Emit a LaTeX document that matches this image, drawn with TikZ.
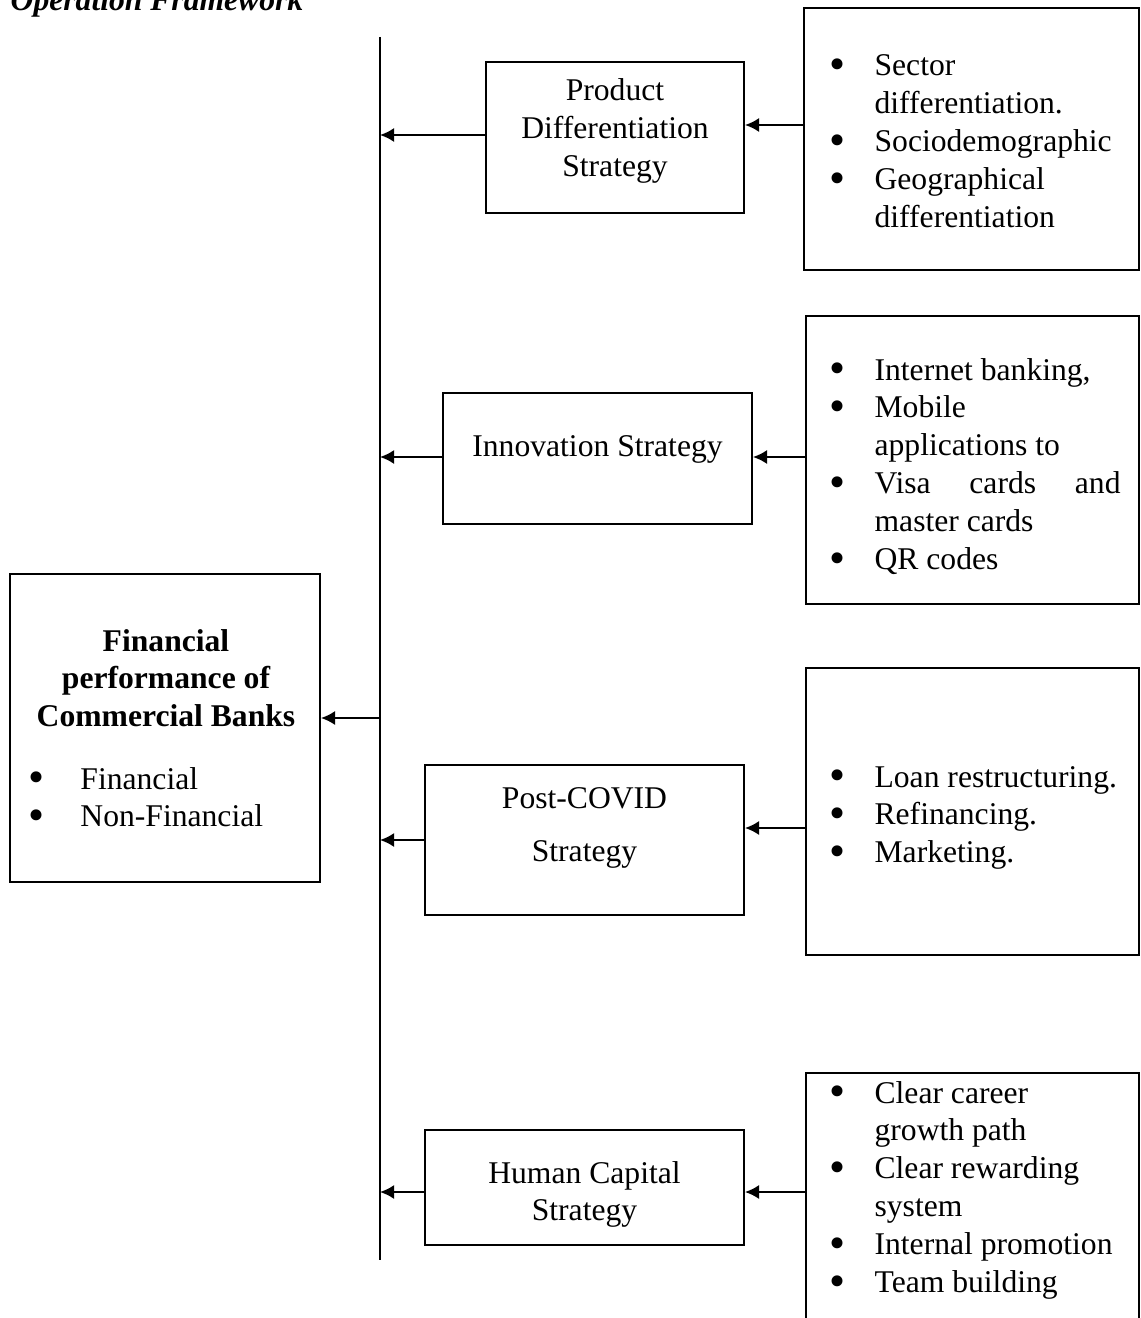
\documentclass[tikz,border=0pt]{standalone}
\usepackage{fontspec}
\setmainfont{Liberation Serif}
\usetikzlibrary{arrows.meta,fit}

\newcommand{\bul}[1][24.7pt]{\makebox[#1][l]{\hspace*{-1pt}\raisebox{-2pt}[0pt][0pt]{\scalebox{1.45}{\textbullet}}}}

\begin{document}
\begin{tikzpicture}[x=0.02cm, y=-0.02cm, thick,
    box/.style={draw, line width=1.1pt, inner sep=0pt},
    txt/.style={inner sep=0pt, font=\fontsize{18}{21.6}\selectfont},
    arr/.style={line width=1.1pt, -{Latex[length=8pt,width=8pt]}}]
                \useasboundingbox (0,0) rectangle (1141,1318);

                \node[txt, anchor=base west, font=\fontsize{18}{21.6}\selectfont\bfseries\itshape] (title) at (10,11) {Operation Framework};

                \coordinate (top) at (380,37);
                \coordinate (bot) at (380,1260);
                \draw[line width=0.8pt] (top) -- (bot);

                % dependent variable
                \node[box, fit={(10,574) (320,882)}] (Perf) {};
                \node[txt, anchor=base, font=\fontsize{18}{21.6}\selectfont\bfseries] (Perftxt) at (166,651)
                    {\begin{tabular}[t]{@{}c@{}}Financial\\performance of\\Commercial Banks\end{tabular}};
                \node[txt, anchor=base west] (Perflist) at (29.5,789)
                    {\begin{tabular}[t]{@{}l@{}l@{}}\bul[28.6pt] & Financial\\ \bul[28.6pt] & Non-Financial\end{tabular}};

                % strategies
                \node[box, fit={(486,62) (744,213)}] (P) {};
                \node[txt, anchor=base] (Ptxt) at (615,101)
                    {\begin{tabular}[t]{@{}c@{}}Product\\Differentiation\\Strategy\end{tabular}};

                \node[box, fit={(443,393) (752,524)}] (I) {};
                \node[txt, anchor=base] (Itxt) at (597.5,456) {Innovation Strategy};

                \node[box, fit={(425,765) (744,915)}] (C) {};
                \node[txt, anchor=base] (Ctxt) at (584.5,808)
                    {\begin{tabular}[t]{@{}c@{}}Post-COVID\\[9pt]Strategy\end{tabular}};

                \node[box, fit={(425,1130) (744,1245)}] (H) {};
                \node[txt, anchor=base] (Htxt) at (584.5,1183)
                    {\begin{tabular}[t]{@{}c@{}}Human Capital\\Strategy\end{tabular}};

                % indicators
                \node[box, fit={(804,8) (1139,270)}] (R1) {};
                \node[txt, anchor=base west] (R1txt) at (830.5,76)
                    {\begin{tabular}[t]{@{}l@{}l@{}}\bul & Sector\\ & differentiation.\\ \bul & Sociodemographic\\
                     \bul & Geographical\\ & differentiation\end{tabular}};

                \node[box, fit={(806,316) (1139,604)}] (R2) {};
                \node[txt, anchor=base west] (R2txt) at (830.5,380)
                    {\begin{tabular}[t]{@{}l@{}l@{}}\bul & Internet banking,\\ \bul & Mobile\\ & applications to\\
                     \bul & \makebox[140pt][s]{Visa\hfill cards\hfill and}\\ & master cards\\ \bul & QR codes\end{tabular}};

                \node[box, fit={(806,668) (1139,955)}] (R3) {};
                \node[txt, anchor=base west] (R3txt) at (830.5,787)
                    {\begin{tabular}[t]{@{}l@{}l@{}}\bul & Loan restructuring.\\ \bul & Refinancing.\\ \bul & Marketing.\end{tabular}};

                \node[box, fit={(806,1073) (1139,1340)}] (R4) {};
                \node[txt, anchor=base west] (R4txt) at (830.5,1103)
                    {\begin{tabular}[t]{@{}l@{}l@{}}\bul & Clear career\\ & growth path\\ \bul & Clear rewarding\\
                     & system\\ \bul & Internal promotion\\ \bul & Team building\end{tabular}};

                % arrows
                \draw[arr] (P.west |- 0,135) -- (top |- 0,135);
                \draw[arr] (R1.west |- 0,125) -- (P.east |- 0,125);
                \draw[arr] (I.west |- 0,457) -- (top |- 0,457);
                \draw[arr] (R2.west |- 0,457) -- (I.east |- 0,457);
                \draw[arr] (top |- 0,718) -- (Perf.east |- 0,718);
                \draw[arr] (C.west |- 0,840) -- (top |- 0,840);
                \draw[arr] (R3.west |- 0,828) -- (C.east |- 0,828);
                \draw[arr] (H.west |- 0,1192) -- (top |- 0,1192);
                \draw[arr] (R4.west |- 0,1192) -- (H.east |- 0,1192);
            \end{tikzpicture}
\end{document}
